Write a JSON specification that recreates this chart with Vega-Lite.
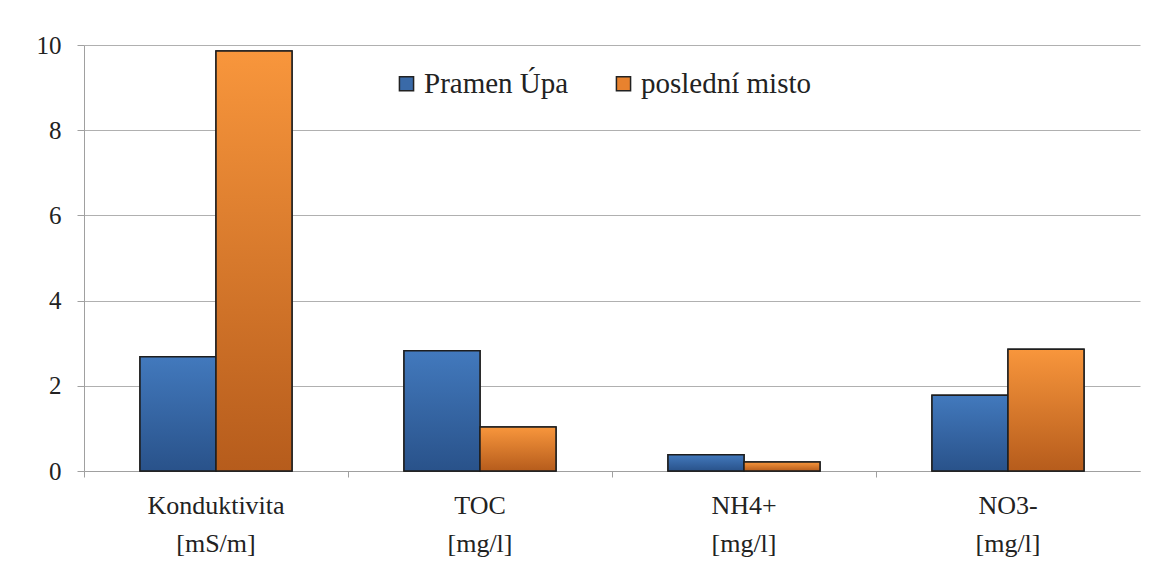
{
  "$schema": "https://vega.github.io/schema/vega-lite/v6.json",
  "width": 1056,
  "height": 426,
  "autosize": {"type": "none"},
  "padding": {"left": 84, "top": 45, "right": 21, "bottom": 109},
  "background": "white",
  "data": {"values": [
    {"param": "Konduktivita [mS/m]", "series": "Pramen Úpa", "value": 2.68},
    {"param": "Konduktivita [mS/m]", "series": "poslední misto", "value": 9.86},
    {"param": "TOC [mg/l]", "series": "Pramen Úpa", "value": 2.82},
    {"param": "TOC [mg/l]", "series": "poslední misto", "value": 1.03},
    {"param": "NH4+ [mg/l]", "series": "Pramen Úpa", "value": 0.38},
    {"param": "NH4+ [mg/l]", "series": "poslední misto", "value": 0.21},
    {"param": "NO3- [mg/l]", "series": "Pramen Úpa", "value": 1.78},
    {"param": "NO3- [mg/l]", "series": "poslední misto", "value": 2.86}
  ]},
  "encoding": {
    "x": {
      "field": "param", "type": "nominal", "sort": null, "title": null,
      "scale": {"paddingInner": 0, "paddingOuter": 0},
      "axis": {
        "labelAngle": 0, "bandPosition": 0,
        "labelExpr": "split(datum.label, ' ')",
        "labelFont": "Liberation Serif", "labelFontSize": 26, "labelColor": "#222",
        "labelLineHeight": 38, "labelBaseline": "top", "labelPadding": 15,
        "labelAlign": "center",
        "domainColor": "#a0a0a0", "tickColor": "#a0a0a0", "tickSize": 6, "grid": false
      }
    },
    "xOffset": {
      "field": "series", "type": "nominal",
      "scale": {"domain": ["Pramen Úpa", "poslední misto"], "paddingInner": 0, "paddingOuter": 0.737}
    },
    "y": {
      "field": "value", "type": "quantitative", "title": null,
      "scale": {"domain": [0, 10], "nice": false},
      "axis": {
        "values": [0, 2, 4, 6, 8, 10],
        "labelFont": "Liberation Serif", "labelFontSize": 25, "labelColor": "#222",
        "labelPadding": 16, "tickSize": 7, "tickColor": "#a0a0a0",
        "domainColor": "#a0a0a0", "gridColor": "#b0b0b0", "gridWidth": 1
      }
    }
  },
  "layer": [
    {
      "mark": {"type": "bar", "stroke": "#1e1e1e", "strokeWidth": 1.5},
      "encoding": {
        "color": {
          "field": "series", "type": "nominal", "title": null,
          "scale": {"domain": ["Pramen Úpa", "poslední misto"], "range": ["#3a6aa8", "#e8822e"]},
          "legend": {
            "orient": "none", "legendX": 308, "legendY": 24, "direction": "horizontal",
            "labelFont": "Liberation Serif", "labelFontSize": 29, "labelColor": "#222",
            "symbolType": "square", "symbolSize": 200, "symbolStrokeColor": "#222",
            "symbolStrokeWidth": 1.5, "labelOffset": 3, "columnPadding": 40,
            "labelLimit": 400
          }
        }
      }
    },
    {
      "transform": [{"filter": "datum.series === 'Pramen Úpa'"}],
      "mark": {
        "type": "bar", "stroke": "#1e1e1e", "strokeWidth": 1.5,
        "fill": {"gradient": "linear", "x1": 0, "y1": 0, "x2": 0, "y2": 1,
          "stops": [{"offset": 0, "color": "#4279bd"}, {"offset": 1, "color": "#29528a"}]}
      }
    },
    {
      "transform": [{"filter": "datum.series === 'poslední misto'"}],
      "mark": {
        "type": "bar", "stroke": "#1e1e1e", "strokeWidth": 1.5,
        "fill": {"gradient": "linear", "x1": 0, "y1": 0, "x2": 0, "y2": 1,
          "stops": [{"offset": 0, "color": "#f8963c"}, {"offset": 1, "color": "#b65c1c"}]}
      }
    }
  ],
  "config": {"view": {"stroke": null}}
}
